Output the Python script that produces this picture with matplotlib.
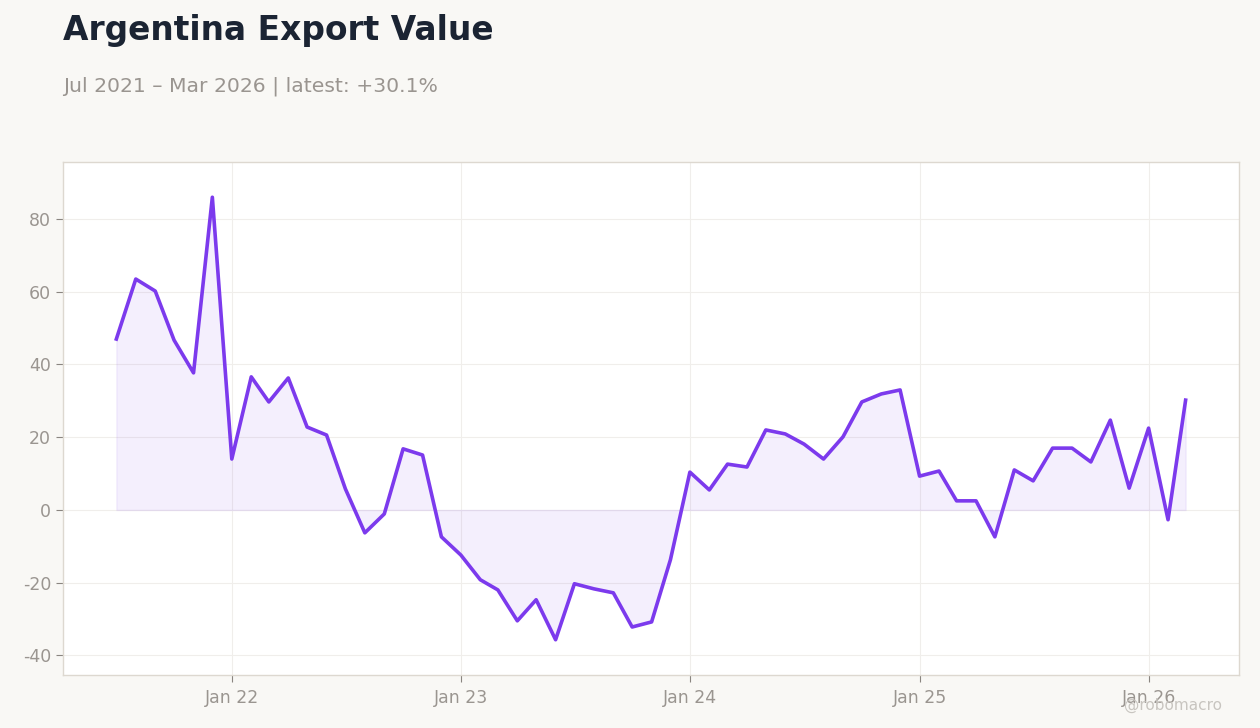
import numpy as np
import pandas as pd
import matplotlib
matplotlib.use("Agg")
import matplotlib.pyplot as plt
import matplotlib.dates as mdates

plt.rcParams["axes.unicode_minus"] = False

# monthly y/y change of export value, %
months = pd.date_range("2021-07-01", "2026-03-01", freq="MS")
export_yoy = [
    47.0, 63.5, 60.2, 46.7, 37.7, 86.0,
    14.0, 36.6, 29.7, 36.3, 22.8, 20.6, 5.8, -6.3, -1.1, 16.8, 15.1, -7.4,
    -12.4, -19.2, -22.0, -30.5, -24.7, -35.7, -20.3, -21.7, -22.8, -32.2, -30.8, -13.7,
    10.4, 5.5, 12.6, 11.8, 22.0, 20.9, 18.1, 14.0, 20.1, 29.7, 31.9, 33.0,
    9.3, 10.7, 2.5, 2.5, -7.4, 11.0, 8.0, 17.0, 17.0, 13.2, 24.7, 6.0,
    22.5, -2.7, 30.2,
]
title = "Argentina Export Value"
subtitle = "Jul 2021 \u2013 Mar 2026 | latest: +30.1%"

line_color = "#7c3aed"
bg = "#f9f8f5"
muted = "#9a9590"

fig = plt.figure(figsize=(12.6, 7.28), dpi=100, facecolor=bg)
ax = fig.add_axes([0.05, 0.0728, 0.9333, 0.7047])
ax.set_facecolor("white")

ax.fill_between(months, export_yoy, 0, color=line_color, alpha=0.08, linewidth=1)
ax.plot(months, export_yoy, color=line_color, linewidth=2.6)

ax.set_ylim(-45.4, 95.7)
ax.set_xlim(pd.Timestamp("2021-04-07"), pd.Timestamp("2026-05-25"))
ax.set_yticks([-40, -20, 0, 20, 40, 60, 80])
ax.xaxis.set_major_locator(mdates.YearLocator(month=1))
ax.xaxis.set_major_formatter(mdates.DateFormatter("%b %y"))

ax.grid(True, color="#f0eeeb", linewidth=0.8)
ax.set_axisbelow(True)
for s in ax.spines.values():
    s.set_color("#ddd8d0")
    s.set_linewidth(1)
ax.tick_params(colors="#8a8580", labelcolor=muted, labelsize=12.5, length=5, width=0.8)
ax.tick_params(axis="x", pad=5)

fig.text(0.05, 0.958, title, fontsize=23.7, fontweight="bold", color="#1b2433", va="center")
fig.text(0.05, 0.882, subtitle, fontsize=14.7, color=muted, va="center")
fig.text(0.97, 0.031, "@robomacro", fontsize=11, color="#c8c5c0", ha="right", va="center")

fig.savefig("out.png", dpi=100, facecolor=bg)
